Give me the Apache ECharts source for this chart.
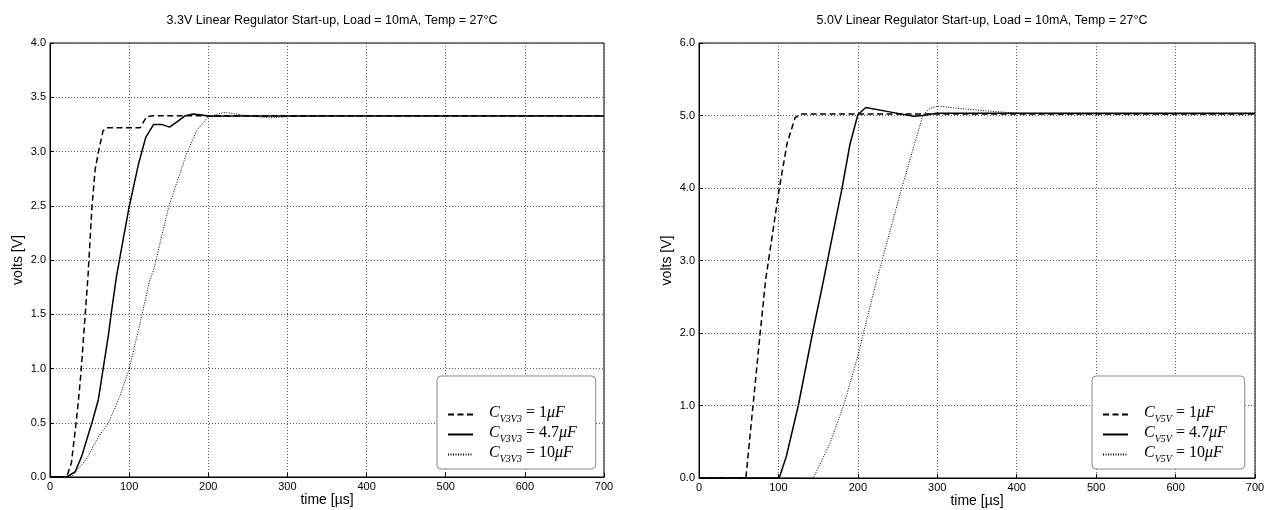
<!DOCTYPE html>
<html>
<head>
<meta charset="utf-8">
<script src="https://cdn.jsdelivr.net/npm/echarts@6/dist/echarts.min.js"></script>
<style>html,body{margin:0;padding:0;background:#fff}#c{width:1272px;height:510px}</style>
</head>
<body>
<div id="c"></div>
<script>
// ---- data ----
const titleLeft = '3.3V Linear Regulator Start-up, Load = 10mA, Temp = 27°C';
const titleRight = '5.0V Linear Regulator Start-up, Load = 10mA, Temp = 27°C';
const xTicks = [0, 100, 200, 300, 400, 500, 600, 700];
const yTicksLeft = [0, 0.5, 1, 1.5, 2, 2.5, 3, 3.5, 4];
const yTicksRight = [0, 1, 2, 3, 4, 5, 6];

// 3.3 V regulator
const t33_1u = [0, 21, 27, 33, 36, 39, 44, 48, 53, 57, 61, 67, 72, 114, 122, 130, 700];
const v33_1u = [0, 0, 0.13, 0.5, 0.71, 0.95, 1.45, 1.85, 2.49, 2.83, 2.99, 3.19, 3.22, 3.22, 3.32, 3.33, 3.33];
const t33_4u7 = [0, 21, 32, 40, 53, 61, 67, 74, 77, 84, 93, 100, 112, 121, 131, 141, 151, 160, 171, 181, 194, 202, 230, 700];
const v33_4u7 = [0, 0, 0.05, 0.19, 0.5, 0.71, 0.99, 1.32, 1.49, 1.85, 2.21, 2.49, 2.89, 3.13, 3.25, 3.25, 3.225, 3.27, 3.33, 3.345, 3.335, 3.325, 3.327, 3.327];
const t33_10u = [0, 27, 42, 48, 61, 74, 88, 100, 116, 126, 131, 150, 173, 186, 200, 219, 232, 248, 278, 307, 350, 700];
const v33_10u = [0, 0, 0.13, 0.19, 0.37, 0.5, 0.74, 0.99, 1.49, 1.815, 1.91, 2.49, 2.99, 3.2, 3.32, 3.36, 3.35, 3.33, 3.31, 3.325, 3.33, 3.33];

// 5.0 V regulator
const t50_1u = [0, 59, 68, 77, 84, 101, 111, 121, 129, 700];
const v50_1u = [0, 0, 1.0, 2.0, 2.74, 3.99, 4.62, 4.97, 5.02, 5.02];
const t50_4u7 = [0, 101, 110, 125, 143, 157, 180, 190, 200, 210, 240, 270, 282, 299, 350, 700];
const v50_4u7 = [0, 0, 0.3, 1.0, 2.0, 2.74, 3.99, 4.6, 5.01, 5.11, 5.05, 4.99, 5.0, 5.03, 5.03, 5.03];
const t50_10u = [0, 144, 165, 182, 201, 207, 224, 255, 268, 282, 291, 301, 324, 366, 404, 450, 500, 700];
const v50_10u = [0, 0, 0.48, 1.0, 1.72, 2.0, 2.74, 3.99, 4.48, 5.01, 5.10, 5.13, 5.10, 5.06, 5.03, 5.02, 5.02, 5.02];

const legLeft = [['V3V3', '1'], ['V3V3', '4.7'], ['V3V3', '10']];
const legRight = [['V5V', '1'], ['V5V', '4.7'], ['V5V', '10']];

// ---- build ----
const zip = (t, v) => t.map((x, i) => [x, v[i]]);
const sans = 'Liberation Sans, Arial, sans-serif';
const serif = 'Liberation Serif, DejaVu Serif, serif';
const styles = [
  { type: [6, 3.5], width: 1.5, color: '#000' },
  { type: 'solid', width: 1.5, color: '#000' },
  { type: [1, 1.5], width: 1, color: '#000' }
];
const nm = (p) => 'C_' + p[0] + ' = ' + p[1] + 'μF';

function xAxis(gi) {
  return {
    gridIndex: gi, type: 'value', min: 0, max: 700, interval: 100,
    name: 'time [µs]', nameLocation: 'middle', nameGap: 16, nameMoveOverlap: false,
    nameTextStyle: { fontFamily: sans, fontSize: 14, color: '#000' },
    axisLine: { show: true, onZero: false, lineStyle: { color: '#000', width: 1 } },
    axisTick: { show: true, inside: true, length: 4, lineStyle: { color: '#000' } },
    axisLabel: { fontFamily: sans, fontSize: 11, color: '#000', margin: 4 },
    splitLine: { show: true, lineStyle: { type: [1, 2], color: '#555', width: 1 } }
  };
}
function yAxis(gi, max, interval) {
  return {
    gridIndex: gi, type: 'value', min: 0, max: max, interval: interval,
    name: 'volts [V]', nameLocation: 'middle', nameGap: 25, nameRotate: 90,
    nameTextStyle: { fontFamily: sans, fontSize: 14, color: '#000' },
    axisLine: { show: true, onZero: false, lineStyle: { color: '#000', width: 1 } },
    axisTick: { show: true, inside: true, length: 4, lineStyle: { color: '#000' } },
    axisLabel: { fontFamily: sans, fontSize: 11, color: '#000', margin: 4, formatter: v => v.toFixed(1) },
    splitLine: { show: true, lineStyle: { type: [1, 2], color: '#555', width: 1 } }
  };
}
function series(name, data, gi, k) {
  return {
    name: name, type: 'line', xAxisIndex: gi, yAxisIndex: gi, data: data,
    symbol: 'none', smooth: false, lineStyle: styles[k], itemStyle: { color: '#000' },
    animation: false, z: 3 - k
  };
}
const rich = {
  c: { fontFamily: serif, fontStyle: 'italic', fontSize: 16, color: '#000', verticalAlign: 'bottom', padding: [0, 0, 3, 11] },
  s: { fontFamily: serif, fontStyle: 'italic', fontSize: 10, color: '#000', verticalAlign: 'bottom' },
  t: { fontFamily: serif, fontSize: 16, color: '#000', verticalAlign: 'bottom', padding: [0, 0, 3, 0] },
  u: { fontFamily: serif, fontStyle: 'italic', fontSize: 16, color: '#000', verticalAlign: 'bottom', padding: [0, 0, 3, 0] }
};
const allLeg = legLeft.concat(legRight);
function legend(list, left, padRight) {
  return {
    orient: 'vertical', left: left, top: 376, itemWidth: 25, itemHeight: 20, itemGap: 1,
    padding: [29, padRight, 5, 10], borderColor: '#888', borderWidth: 1, borderRadius: 4,
    backgroundColor: '#fff', selectedMode: false,
    itemStyle: { opacity: 0 },
    data: list.map(p => nm(p)),
    formatter: name => {
      const p = allLeg.find(q => nm(q) === name);
      return '{c|C}{s|' + p[0] + '}{t| = ' + p[1] + '}{u|μF}';
    },
    textStyle: { rich: rich }
  };
}

const chart = echarts.init(document.getElementById('c'), null, { renderer: 'canvas' });
chart.setOption({
  animation: false,
  backgroundColor: '#fff',
  title: [
    { text: titleLeft, left: 327, top: 9, textAlign: 'center', textStyle: { fontFamily: sans, fontSize: 12.5, fontWeight: 'normal', color: '#000' } },
    { text: titleRight, left: 977, top: 9, textAlign: 'center', textStyle: { fontFamily: sans, fontSize: 12.5, fontWeight: 'normal', color: '#000' } }
  ],
  grid: [
    { left: 50, top: 43, width: 554, height: 434, show: true, borderColor: '#000', borderWidth: 1, backgroundColor: 'transparent', outerBoundsMode: 'none', containLabel: false },
    { left: 699, top: 43, width: 556, height: 435, show: true, borderColor: '#000', borderWidth: 1, backgroundColor: 'transparent', outerBoundsMode: 'none', containLabel: false }
  ],
  xAxis: [xAxis(0), xAxis(1)],
  yAxis: [yAxis(0, 4, 0.5), yAxis(1, 6, 1)],
  legend: [legend(legLeft, 437, 19), legend(legRight, 1092, 18)],
  series: [
    series(nm(legLeft[0]), zip(t33_1u, v33_1u), 0, 0),
    series(nm(legLeft[1]), zip(t33_4u7, v33_4u7), 0, 1),
    series(nm(legLeft[2]), zip(t33_10u, v33_10u), 0, 2),
    series(nm(legRight[0]), zip(t50_1u, v50_1u), 1, 0),
    series(nm(legRight[1]), zip(t50_4u7, v50_4u7), 1, 1),
    series(nm(legRight[2]), zip(t50_10u, v50_10u), 1, 2)
  ]
});
</script>
</body>
</html>
